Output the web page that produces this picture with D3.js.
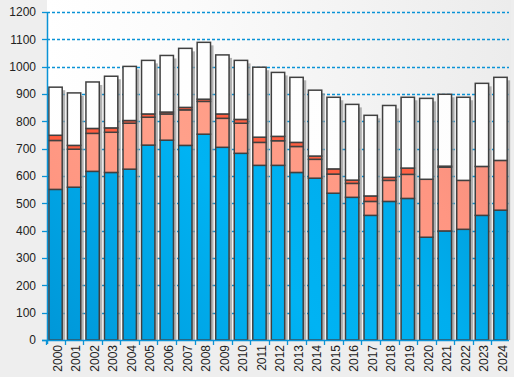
<!DOCTYPE html>
<html><head><meta charset="utf-8">
<script src="https://cdn.jsdelivr.net/npm/d3@7"></script>
<style>
html,body{margin:0;padding:0;background:#eeeeee;}
svg{display:block;font-family:"Liberation Sans",Arial,sans-serif;}
</style></head>
<body>
<svg id="chart" width="514" height="377"></svg>
<script>
const years = ["2000","2001","2002","2003","2004","2005","2006","2007","2008","2009","2010","2011","2012","2013","2014","2015","2016","2017","2018","2019","2020","2021","2022","2023","2024"];
const blueValues   = [551,559,617,613,625,713,731,712,753,705,683,639,639,613,592,537,522,456,507,518,376,399,405,456,475];
const salmonValues = [179,139,139,147,168,102,96,130,120,106,110,84,90,95,69,70,51,51,77,88,212,233,179,179,182];
const redValues    = [19,14,18,16,10,12,7,9,8,16,14,19,16,15,12,19,12,20,11,23,0,4,0,0,0];
const whiteValues  = [176,192,170,189,198,196,207,216,208,216,216,256,234,238,241,262,277,295,263,259,296,263,304,304,304];
const yTicks = [0,100,200,300,400,500,600,700,800,900,1000,1100,1200];

const seriesKeys = ["blue","salmon","red","white"];
const table = years.map((y,i)=>({year:y, blue:blueValues[i], salmon:salmonValues[i], red:redValues[i], white:whiteValues[i]}));

const svg = d3.select("#chart");
const L = 47, R = 509, T = 12, B = 340;

const defs = svg.append("defs");
const bg = defs.append("linearGradient").attr("id","bg").attr("x1","0").attr("x2","1").attr("y1","0").attr("y2","0");
bg.append("stop").attr("offset","0").attr("stop-color","#ffffff");
bg.append("stop").attr("offset","0.3").attr("stop-color","#fbfbfb");
bg.append("stop").attr("offset","1").attr("stop-color","#ececec");

function grad(id, stops){
  const g = defs.append("linearGradient").attr("id",id).attr("gradientUnits","userSpaceOnUse")
    .attr("x1",L).attr("y1",B).attr("x2",R).attr("y2",T);
  stops.forEach(s=>g.append("stop").attr("offset",s[0]).attr("stop-color",s[1]));
}
grad("gBlue",[[0,"#0097d8"],[0.4,"#00b3f3"],[0.6,"#00aeee"],[1,"#008dca"]]);
grad("gSalmon",[[0,"#ff8f7b"],[0.4,"#ffa08a"],[0.7,"#ff9682"],[1,"#ec8878"]]);
grad("gRed",[[0,"#ff5a3c"],[1,"#ff6448"]]);
grad("gWhite",[[0,"#ffffff"],[1,"#fdfdfd"]]);
const fills = {blue:"url(#gBlue)", salmon:"url(#gSalmon)", red:"url(#gRed)", white:"url(#gWhite)"};

svg.append("rect").attr("x",L).attr("y",0).attr("width",R-L+2).attr("height",B).attr("fill","url(#bg)");

const x = d3.scaleBand().domain(years).range([L,R]).paddingInner(0.28).paddingOuter(0.1);
const y = d3.scaleLinear().domain([0,1200]).range([B,T]);

// gridlines
svg.append("g").selectAll("line").data(yTicks.filter(d=>d>0)).join("line")
  .attr("x1",L).attr("x2",R).attr("y1",d=>Math.round(y(d))+0.5).attr("y2",d=>Math.round(y(d))+0.5)
  .attr("stroke","#0a93d6").attr("stroke-width",1.3).attr("stroke-dasharray","3,2");

const stack = d3.stack().keys(seriesKeys)(table);
const totals = table.map(d=>d.blue+d.salmon+d.red+d.white);

// shadows
svg.append("g").selectAll("rect").data(table).join("rect")
  .attr("x",d=>x(d.year)+3).attr("y",(d,i)=>y(totals[i])+3)
  .attr("width",x.bandwidth()).attr("height",(d,i)=>B-y(totals[i])-3)
  .attr("fill","#9a9a9a").attr("opacity",0.75);

// bars
const gBars = svg.append("g");
stack.forEach(layer=>{
  gBars.append("g").selectAll("rect").data(layer.filter(d=>d[1]-d[0]>0)).join("rect")
    .attr("x",d=>x(d.data.year)).attr("y",d=>y(d[1]))
    .attr("width",x.bandwidth()).attr("height",d=>y(d[0])-y(d[1]))
    .attr("fill",fills[layer.key]).attr("stroke","#404040").attr("stroke-width",1.5);
});

// y axis
const yAxis = svg.append("g");
yAxis.append("line").attr("x1",L+0.5).attr("x2",L+0.5).attr("y1",T).attr("y2",B+4).attr("stroke","#0a93d6").attr("stroke-width",1.5);
yAxis.selectAll("line.t").data(yTicks).join("line").attr("class","t")
  .attr("x1",L-5).attr("x2",L).attr("y1",d=>Math.round(y(d))+0.5).attr("y2",d=>Math.round(y(d))+0.5)
  .attr("stroke","#0a93d6").attr("stroke-width",1.3);
yAxis.selectAll("text").data(yTicks).join("text")
  .attr("x",36).attr("y",d=>y(d)).attr("dy","0.35em").attr("text-anchor","end")
  .attr("font-size",12).attr("fill","#222").text(d=>d);

// x axis
const xAxis = svg.append("g");
xAxis.append("line").attr("x1",L-5).attr("x2",R).attr("y1",B+0.5).attr("y2",B+0.5).attr("stroke","#0a93d6").attr("stroke-width",1.5);
const step = x.step();
xAxis.selectAll("line.t").data(years).join("line").attr("class","t")
  .attr("x1",d=>Math.round(x(d)-step*x.paddingInner()/2)+0.5).attr("x2",d=>Math.round(x(d)-step*x.paddingInner()/2)+0.5)
  .attr("y1",B).attr("y2",B+5).attr("stroke","#0a93d6").attr("stroke-width",1.3);
xAxis.selectAll("text").data(years).join("text")
  .attr("transform",d=>`translate(${x(d)+x.bandwidth()/2+2},${B+5}) rotate(-90)`)
  .attr("dy","0.35em").attr("text-anchor","end").attr("font-size",12).attr("fill","#222").text(d=>d);
</script>
</body></html>
